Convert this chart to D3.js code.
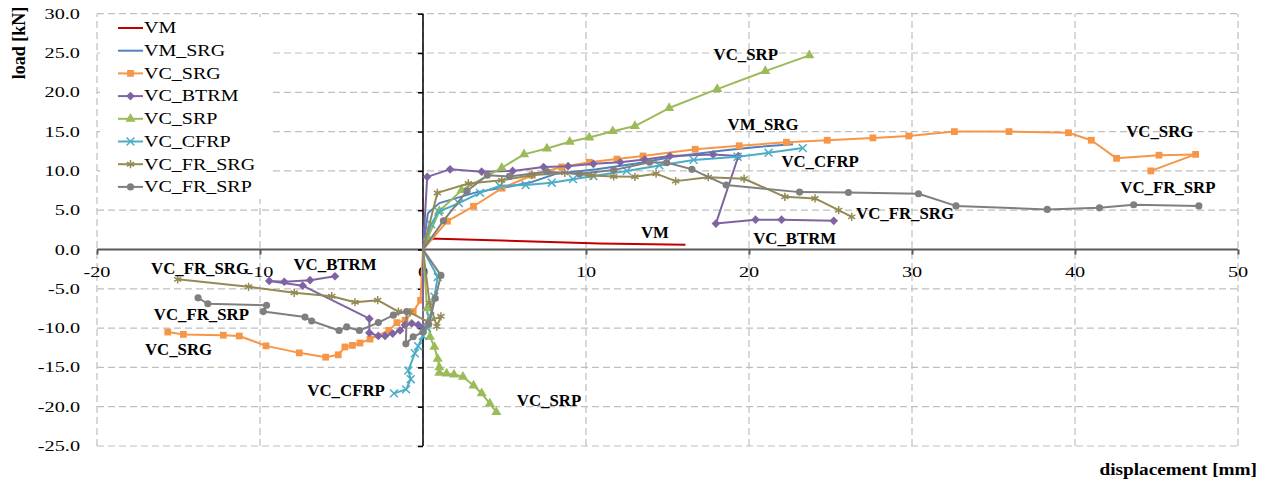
<!DOCTYPE html>
<html>
<head>
<meta charset="utf-8">
<script src="https://cdn.jsdelivr.net/npm/d3@7"></script>
<style>
  body { margin: 0; background: #fff; }
  svg { display: block; font-family: "Liberation Serif", "DejaVu Serif", serif; }
</style>
</head>
<body>
<svg id="chart" width="1270" height="487"></svg>
<script>
// series names (legend order)
const seriesNames = ['VM', 'VM_SRG', 'VC_SRG', 'VC_BTRM', 'VC_SRP', 'VC_CFRP', 'VC_FR_SRG', 'VC_FR_SRP'];

// [displacement mm, load kN]
const vmPts = [[0, 0], [0.4, 1.4], [10.85, 0.77], [16.1, 0.6]];
const vmSrgPts = [[0, 0], [0.3, 4.6], [1.0, 5.9], [2.3, 6.7], [3.3, 7.3], [5.4, 8.05], [6.7, 8.6], [8.2, 9.65], [10.65, 10.2],
    [13.1, 10.95], [15.35, 11.8], [18.4, 12.6], [20.5, 13.05], [22.7, 13.4]];
const vcSrgPts = [[-15.66, -10.5], [-14.7, -10.8], [-12.25, -10.9], [-11.27, -11.0], [-9.63, -12.26], [-7.59, -13.15], [-5.97, -13.7],
    [-5.2, -13.4], [-4.79, -12.4], [-4.33, -12.2], [-3.87, -11.9], [-3.25, -11.4], [-2.1, -10.3], [-1.6, -9.3], [-1.1, -9.0],
    [-0.6, -7.9], [-0.15, -6.45], [0, 0], [1.5, 3.6], [3.1, 5.5], [4.85, 7.8], [6.7, 9.45], [8.5, 10.5], [10.2, 11.1],
    [11.9, 11.5], [13.5, 11.9], [16.7, 12.75], [19.4, 13.2], [22.3, 13.65], [24.8, 13.9], [27.6, 14.2], [29.8, 14.45],
    [32.6, 15.0], [35.95, 15.0], [39.6, 14.85], [41.0, 13.9], [42.55, 11.6], [45.15, 12.0], [47.4, 12.1], [44.65, 10.0]];
const vcBtrmPts = [[-5.4, -3.4], [-6.93, -3.9], [-8.51, -4.1], [-9.43, -4.0], [-7.38, -4.6], [-3.29, -8.8], [-3.29, -10.6],
    [-2.74, -11.0], [-2.33, -11.0], [-1.86, -10.7], [-1.41, -10.3], [-1.1, -9.6], [-0.69, -9.4], [-0.29, -9.6], [0, -9.9],
    [0, 0], [0.26, 9.24], [1.66, 10.2], [3.6, 9.9], [5.5, 10.0], [7.4, 10.5], [8.9, 10.6], [10.45, 10.9], [12.1, 11.1],
    [13.6, 11.45], [15.15, 11.9], [17.8, 12.1], [19.35, 11.9], [17.97, 3.3], [20.4, 3.8], [22.0, 3.8], [25.2, 3.65]];
const vcSrpPts = [[4.5, -20.7], [4.1, -19.6], [3.6, -18.3], [3.1, -17.3], [2.45, -16.2], [1.9, -15.9], [1.45, -15.8], [1.0, -15.7],
    [1.0, -15.0], [0.9, -13.9], [0.7, -12.4], [0.43, -11.1], [0.25, -7.5], [0, 0], [0.3, 1.5], [1.0, 4.9], [2.37, 7.55],
    [4.83, 10.4], [6.2, 12.1], [7.6, 12.85], [9.0, 13.7], [10.2, 14.25], [11.64, 15.05], [13.0, 15.7], [15.1, 18.0],
    [18.05, 20.4], [21.0, 22.7], [23.7, 24.7]];
const vcCfrpPts = [[-1.78, -18.3], [-1.04, -17.8], [-0.75, -16.5], [-0.9, -15.4], [-0.5, -13.2], [-0.3, -12.3], [0, -11.0],
    [0.25, -10.0], [0.45, -8.5], [0.7, -6.0], [0.9, -3.5], [0, 0], [0.5, 3.2], [0.95, 4.8], [2.2, 5.9], [3.5, 7.2],
    [4.7, 8.1], [6.3, 8.2], [7.9, 8.5], [9.2, 8.95], [10.45, 9.35], [12.5, 10.0], [14.5, 10.7], [16.6, 11.4], [19.3, 11.8],
    [21.2, 12.3], [23.3, 12.9]];
const vcFrSrgPts = [[-15.05, -3.8], [-10.7, -4.75], [-7.9, -5.5], [-5.6, -5.95], [-4.17, -6.7], [-2.78, -6.45], [-1.51, -7.9],
    [-0.8, -8.0], [0.3, -9.2], [1.1, -8.5], [0.85, -9.8], [0.4, -6.8], [0, 0], [0.88, 7.2], [2.78, 8.4], [4.83, 8.8],
    [6.67, 9.45], [8.7, 9.75], [10.35, 9.4], [11.7, 9.3], [13.0, 9.25], [14.3, 9.65], [15.5, 8.7], [17.5, 9.2], [19.7, 9.0],
    [22.2, 6.7], [24.05, 6.5], [25.5, 5.0], [26.3, 4.15]];
const vcFrSrpPts = [[-13.8, -6.15], [-13.2, -6.9], [-9.6, -7.1], [-9.8, -7.9], [-7.24, -8.6], [-6.83, -9.1], [-5.15, -10.3],
    [-4.68, -9.85], [-3.9, -10.3], [-2.74, -9.3], [-1.82, -8.35], [-1.0, -7.9], [-1.05, -12.0], [-0.6, -11.1], [0, -10.5],
    [0.35, -9.5], [0.75, -6.2], [1.1, -3.3], [0, 0], [1.25, 3.65], [2.7, 7.45], [3.95, 9.45], [5.3, 9.3], [7.6, 9.9],
    [9.6, 9.65], [11.7, 10.1], [13.9, 11.1], [14.95, 11.05], [16.5, 10.2], [18.6, 8.2], [23.1, 7.3], [26.1, 7.25],
    [30.4, 7.1], [32.7, 5.55], [38.3, 5.1], [41.5, 5.3], [43.6, 5.7], [47.6, 5.55]];

// ticks
const xTicks = [-20, -10, 0, 10, 20, 30, 40, 50];
const yTicks = [-25, -20, -15, -10, -5, 0, 5, 10, 15, 20, 25, 30];

// in-plot labels: [text, x, y] in data units
const curveLabels = [
    ['VC_SRP', 19.8, 24.85], ['VM_SRG', 20.86, 15.94], ['VC_SRG', 45.2, 15.05], ['VC_CFRP', 24.36, 11.24],
    ['VC_FR_SRP', 45.7, 7.93], ['VM', 14.23, 2.2], ['VC_BTRM', 22.8, 1.43], ['VC_FR_SRG', 29.57, 4.5],
    ['VC_FR_SRG', -13.68, -2.38], ['VC_BTRM', -5.4, -1.87], ['VC_FR_SRP', -13.6, -8.23], ['VC_SRG', -15.0, -12.7],
    ['VC_CFRP', -4.72, -17.9], ['VC_SRP', 7.73, -19.2]
];

const series = [
    { name: 'VM', pts: vmPts, color: '#c00000', sym: null },
    { name: 'VM_SRG', pts: vmSrgPts, color: '#4f81bd', sym: null },
    { name: 'VC_SRG', pts: vcSrgPts, color: '#f79646', sym: d3.symbolSquare, size: 46, fill: true },
    { name: 'VC_BTRM', pts: vcBtrmPts, color: '#8064a2', sym: d3.symbolDiamond2, size: 48, fill: true },
    { name: 'VC_SRP', pts: vcSrpPts, color: '#9bbb59', sym: d3.symbolTriangle, size: 44, fill: true },
    { name: 'VC_CFRP', pts: vcCfrpPts, color: '#4bacc6', sym: d3.symbolTimes, size: 42, fill: false },
    { name: 'VC_FR_SRG', pts: vcFrSrgPts, color: '#948a54', sym: d3.symbolAsterisk, size: 48, fill: false },
    { name: 'VC_FR_SRP', pts: vcFrSrpPts, color: '#7f7f7f', sym: d3.symbolCircle, size: 40, fill: true }
];

const svg = d3.select('#chart');
const x = d3.scaleLinear().domain([-20, 50]).range([97, 1238]);
const y = d3.scaleLinear().domain([-25, 30]).range([446, 13.7]);

// stretched text helper (the source picture is wider than tall)
function stext(g, tx, ty, str, opts) {
    return g.append('text')
        .attr('transform', `translate(${tx},${ty}) scale(${opts.sx || 1},1)`)
        .attr('text-anchor', opts.anchor || 'start')
        .attr('dominant-baseline', 'central')
        .attr('font-size', opts.size)
        .attr('font-weight', opts.bold ? 'bold' : 'normal')
        .attr('fill', opts.fill || '#000')
        .text(str);
}

// grid
const grid = svg.append('g').attr('stroke', '#bfbfbf').attr('stroke-width', 1.2).attr('stroke-dasharray', '7,4');
yTicks.forEach(t => {
    grid.append('line').attr('x1', x(-20)).attr('x2', x(50)).attr('y1', y(t)).attr('y2', y(t));
});
xTicks.forEach(t => {
    grid.append('line').attr('x1', x(t)).attr('x2', x(t)).attr('y1', y(-25)).attr('y2', y(30));
});

// axes crossing at the origin
svg.append('g').attr('transform', `translate(0,${y(0)})`)
    .call(d3.axisBottom(x).tickValues(xTicks).tickSize(5).tickFormat(''))
    .call(g => g.selectAll('path,line').attr('stroke', '#595959').attr('stroke-width', 2))
    .call(g => g.select('.domain').attr('d', `M${x(-20)},0H${x(50)}`));
svg.append('g').attr('transform', `translate(${x(0)},0)`)
    .call(d3.axisLeft(y).tickValues(yTicks).tickSize(5).tickFormat(''))
    .call(g => g.selectAll('path,line').attr('stroke', '#000').attr('stroke-width', 1.5))
    .call(g => g.select('.domain').attr('d', `M0,${y(-25)}V${y(30)}`));

// tick labels (plain hyphen minus, as in the source)
yTicks.forEach(t => stext(svg, 80, y(t), t.toFixed(1), { size: 15, anchor: 'end', sx: 1.35 }));
xTicks.forEach(t => stext(svg, x(t), 272, String(t), { size: 15, anchor: 'middle', sx: 1.35 }));

// axis titles
svg.append('text')
    .attr('transform', 'translate(19,43) rotate(-90)')
    .attr('text-anchor', 'middle').attr('dominant-baseline', 'central')
    .attr('font-size', 18).attr('font-weight', 'bold')
    .text('load [kN]');
stext(svg, 1257, 469, 'displacement [mm]', { size: 17.5, anchor: 'end', bold: true, sx: 1.1 });

// curves
const line = d3.line().x(d => x(d[0])).y(d => y(d[1]));
series.forEach(s => {
    const g = svg.append('g');
    g.append('path').attr('d', line(s.pts)).attr('fill', 'none')
        .attr('stroke', s.color).attr('stroke-width', 2).attr('stroke-linejoin', 'round');
    if (s.sym) {
        const sym = d3.symbol().type(s.sym).size(s.size);
        g.selectAll('path.m').data(s.pts.filter(p => !(p[0] === 0 && p[1] === 0))).join('path')
            .attr('class', 'm')
            .attr('d', sym)
            .attr('transform', d => `translate(${x(d[0])},${y(d[1])})`)
            .attr('fill', s.fill ? s.color : 'none')
            .attr('stroke', s.color).attr('stroke-width', s.fill ? 0 : 1.5);
    }
});

// labels next to curves
curveLabels.forEach(l => stext(svg, x(l[1]), y(l[2]), l[0], { size: 16, anchor: 'middle', bold: true, sx: 1.05 }));

// legend
const legend = svg.append('g');
legend.append('rect').attr('x', 100).attr('y', 17).attr('width', 172).attr('height', 182).attr('fill', '#fff');
series.forEach((s, i) => {
    const ly = 28 + i * 22.7;
    legend.append('line').attr('x1', 118).attr('x2', 143).attr('y1', ly).attr('y2', ly)
        .attr('stroke', s.color).attr('stroke-width', 2);
    if (s.sym) {
        legend.append('path').attr('d', d3.symbol().type(s.sym).size(s.size)())
            .attr('transform', `translate(130.5,${ly})`)
            .attr('fill', s.fill ? s.color : 'none')
            .attr('stroke', s.color).attr('stroke-width', s.fill ? 0 : 1.5);
    }
    stext(legend, 144, ly, s.name, { size: 16, sx: 1.25 });
});
</script>
</body>
</html>
